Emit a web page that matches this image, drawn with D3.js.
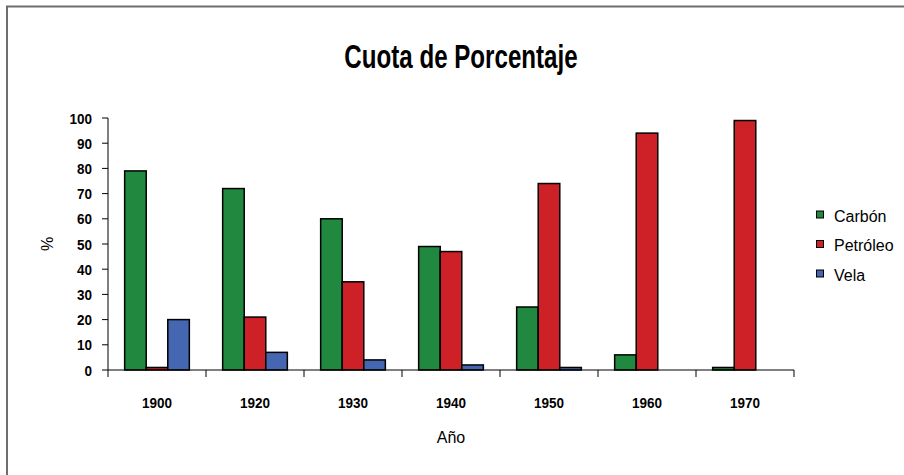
<!DOCTYPE html>
<html><head><meta charset="utf-8">
<script src="https://cdn.jsdelivr.net/npm/d3@7"></script>
<style>body{margin:0;background:#fff}svg{display:block}</style>
</head><body>
<script>
const years = ["1900","1920","1930","1940","1950","1960","1970"];
const seriesNames = ["Carbón","Petróleo","Vela"];
const carbon   = [79, 72, 60, 49, 25, 6, 1];
const petroleo = [1, 21, 35, 47, 74, 94, 99];
const vela     = [20, 7, 4, 2, 1, 0, 0];
const yTicks = [0,10,20,30,40,50,60,70,80,90,100];
const colors = ["#21893f","#cd2027","#4567b1"];
const seriesValues = [carbon, petroleo, vela];

const W = 904, H = 475;
const svg = d3.select("body").append("svg").attr("width", W).attr("height", H);
const font = "'Liberation Sans', Arial, sans-serif";

svg.append("rect").attr("x",7).attr("y",6.5).attr("width",1200).attr("height",1200)
  .attr("fill","none").attr("stroke","#6e6e6e").attr("stroke-width",2);

function txt(x, y, s, opts) {
  const g = svg.append("g").attr("transform", `translate(${x},${y}) ${opts.rot?`rotate(${opts.rot})`:""} scale(${opts.sx||1},1)`);
  g.append("text").attr("text-anchor", opts.anchor||"middle")
    .attr("font-family", font).attr("font-size", opts.size)
    .attr("font-weight", opts.bold ? "bold" : "normal")
    .attr("fill", "#000").text(s);
  return g;
}

const x0 = d3.scaleBand().domain(years).range([108, 794]).paddingInner(0.34).paddingOuter(0.17);
const x1 = d3.scaleBand().domain(seriesNames).range([0, x0.bandwidth()]);
const y = d3.scaleLinear().domain([0, 100]).range([370, 118]);

// Title
txt(461, 68, "Cuota de Porcentaje", {size: 34, bold: true, sx: 0.71});

// Bars
const rows = years.map((yr, i) => ({yr, vals: seriesNames.map((s, j) => ({s, j, v: seriesValues[j][i]}))}));
const grp = svg.append("g").selectAll("g").data(rows).join("g")
  .attr("transform", d => `translate(${x0(d.yr)},0)`);
grp.selectAll("rect").data(d => d.vals.filter(e => e.v > 0)).join("rect")
  .attr("x", e => x1(e.s)).attr("width", x1.bandwidth())
  .attr("y", e => y(e.v)).attr("height", e => y(0) - y(e.v))
  .attr("fill", e => colors[e.j]).attr("stroke", "#000").attr("stroke-width", 1.5);

// Y axis
svg.append("line").attr("x1",108).attr("x2",108).attr("y1",y(100)).attr("y2",y(0)).attr("stroke","#000");
yTicks.forEach(t => {
  svg.append("line").attr("x1",102).attr("x2",108).attr("y1",y(t)).attr("y2",y(t)).attr("stroke","#000");
  txt(92, y(t) + 5.5, String(t), {size: 15, bold: true, anchor: "end", sx: 0.9});
});

// X axis
svg.append("line").attr("x1",108).attr("x2",794).attr("y1",370).attr("y2",370).attr("stroke","#000");
const step = x0.step();
const bounds = years.map((yr, i) => x0(years[0]) - x0.paddingOuter()*step + i*step).concat([794]);
bounds.forEach(b => {
  svg.append("line").attr("x1",b).attr("x2",b).attr("y1",370).attr("y2",377).attr("stroke","#000");
});
years.forEach(yr => {
  txt(x0(yr) + x0.bandwidth()/2, 408, yr, {size: 15, bold: true, sx: 0.9});
});

// Axis titles
txt(451, 443, "Año", {size: 16});
txt(53, 244, "%", {size: 16, rot: -90});

// Legend
seriesNames.forEach((s, i) => {
  const yy = 211 + i * 29.5;
  svg.append("rect").attr("x", 816.5).attr("y", yy).attr("width", 7).attr("height", 7)
    .attr("fill", colors[i]).attr("stroke", "#000").attr("stroke-width", 1);
  txt(834, yy + 10.5, s, {size: 16, anchor: "start"});
});
</script>
</body></html>
